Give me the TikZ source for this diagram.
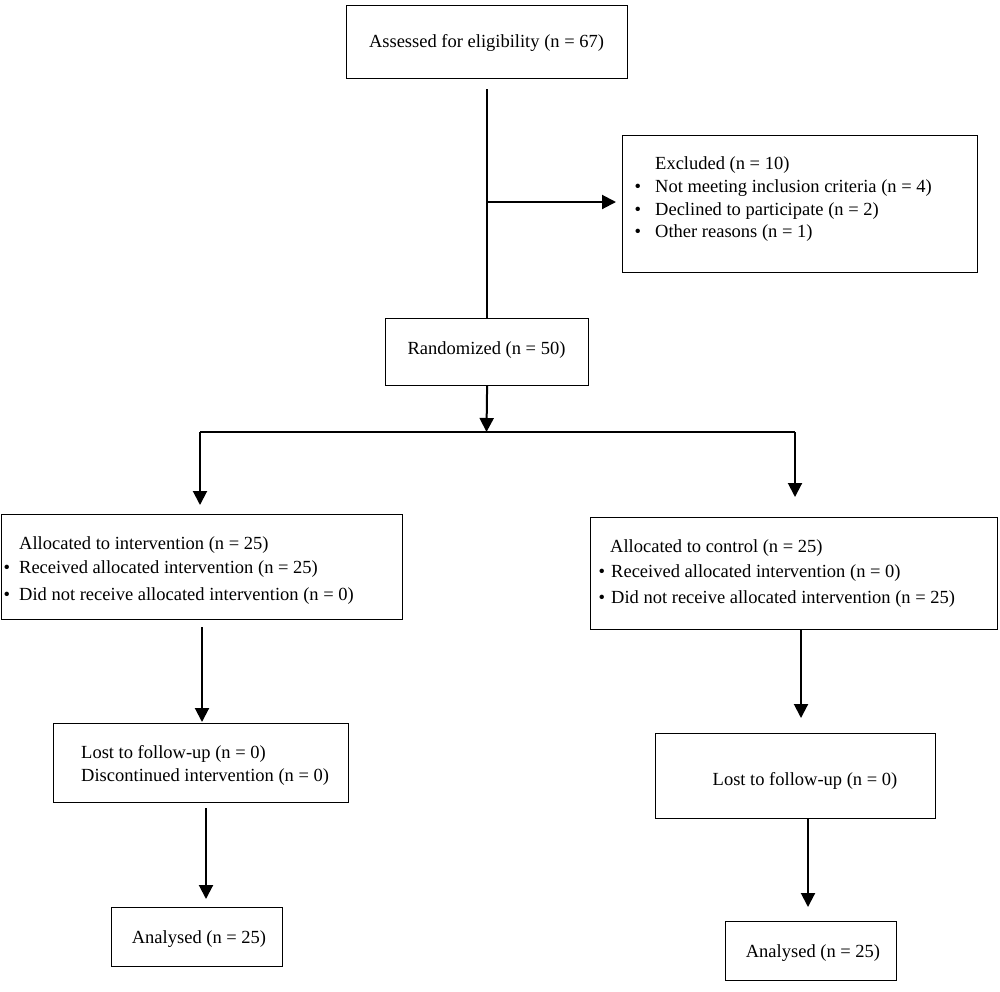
\documentclass[tikz,border=0pt]{standalone}
\usepackage{fontspec}
\setmainfont{Liberation Serif}
\usetikzlibrary{arrows.meta}
\begin{document}
\begin{tikzpicture}[x=1pt,y=-1pt,
  box/.style={draw, line width=1.2pt, inner sep=0pt, anchor=north west},
  txt/.style={inner sep=0pt, yshift=-4pt, font=\fontsize{18.5}{22}\selectfont},
  ltxt/.style={txt, anchor=mid west},
  conn/.style={line width=2pt},
  arr/.style={line width=2pt, -{Triangle[width=14pt,length=14pt]}}]
\useasboundingbox (0,0) rectangle (1000,991);
\newcommand{\bul}[1]{\llap{\textbullet\hspace{#1}}}
% boxes
\node[box, minimum width=281pt, minimum height=73pt] (assess) at (346,5) {};
\node[txt, anchor=mid] (assesst) at (486.5,41) {Assessed for eligibility (n = 67)};
\node[box, minimum width=355pt, minimum height=137pt] (excl) at (622,135) {};
\node[ltxt] (ex1) at (655,163) {Excluded (n = 10)};
\node[ltxt] (ex2) at (655,186) {\bul{14pt}Not meeting inclusion criteria (n = 4)};
\node[ltxt] (ex3) at (655,209) {\bul{14pt}Declined to participate (n = 2)};
\node[ltxt] (ex4) at (655,231) {\bul{14pt}Other reasons (n = 1)};
\node[box, minimum width=203pt, minimum height=67pt] (rand) at (385,318) {};
\node[txt, anchor=mid] (randt) at (486.5,348) {Randomized (n = 50)};
\node[box, minimum width=401pt, minimum height=105pt] (alli) at (1,514) {};
\node[ltxt] (ai1) at (19,543) {Allocated to intervention (n = 25)};
\node[ltxt] (ai2) at (19,567) {\bul{9pt}Received allocated intervention (n = 25)};
\node[ltxt] (ai3) at (19,594) {\bul{9pt}Did not receive allocated intervention (n = 0)};
\node[box, minimum width=407pt, minimum height=112pt] (allc) at (590,517) {};
\node[ltxt] (ac1) at (610,546) {Allocated to control (n = 25)};
\node[ltxt] (ac2) at (611,571) {\bul{6pt}Received allocated intervention (n = 0)};
\node[ltxt] (ac3) at (611,597) {\bul{6pt}Did not receive allocated intervention (n = 25)};
\node[box, minimum width=295pt, minimum height=79pt] (losti) at (53,723) {};
\node[ltxt] (li1) at (81,752) {Lost to follow-up (n = 0)};
\node[ltxt] (li2) at (81,775) {Discontinued intervention (n = 0)};
\node[box, minimum width=280pt, minimum height=85pt] (lostc) at (655,733) {};
\node[txt, anchor=mid] (lct) at (805,779) {Lost to follow-up (n = 0)};
\node[box, minimum width=171pt, minimum height=59pt] (anai) at (111,907) {};
\node[txt, anchor=mid] (anait) at (199,937) {Analysed (n = 25)};
\node[box, minimum width=171pt, minimum height=59pt] (anac) at (725,921) {};
\node[txt, anchor=mid] (anact) at (813,951) {Analysed (n = 25)};
% connector points
\coordinate (top) at (486.5,89);
\coordinate (br) at (486.5,202);
\coordinate (brend) at (616,202);
\coordinate (splitc) at (486.5,432);
\coordinate (sl) at (200,432);
\coordinate (sr) at (795,432);
\coordinate (slend) at (200,505);
\coordinate (srend) at (795,497);
\coordinate (i1s) at (202,627);
\coordinate (i1e) at (202,722);
\coordinate (c1s) at (801,629);
\coordinate (c1e) at (801,718);
\coordinate (i2s) at (206,808);
\coordinate (i2e) at (206,899);
\coordinate (c2s) at (808,818);
\coordinate (c2e) at (808,907);
% connectors
\draw[conn] (top) -- (top |- rand.north);
\draw[arr] (br) -- (brend);
\draw[arr] (rand.south) -- (splitc);
\draw[conn] (sl) -- (sr);
\draw[arr] (sl) -- (slend);
\draw[arr] (sr) -- (srend);
\draw[arr] (i1s) -- (i1e);
\draw[arr] (c1s) -- (c1e);
\draw[arr] (i2s) -- (i2e);
\draw[arr] (c2s) -- (c2e);
\end{tikzpicture}
\end{document}
